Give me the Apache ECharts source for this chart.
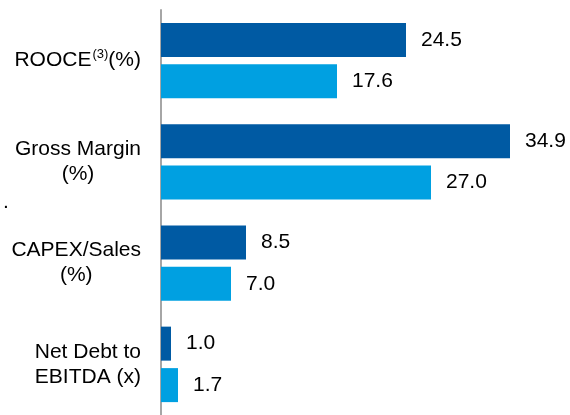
<!DOCTYPE html>
<html>
<head>
<meta charset="utf-8">
<script src="https://cdn.jsdelivr.net/npm/echarts@6/dist/echarts.min.js"></script>
<style>
  html, body { margin: 0; padding: 0; background: #fff; }
  #chart { width: 570px; height: 415px; }
</style>
</head>
<body>
<div id="chart"></div>
<script>
// categories, top to bottom
var categories = ['ROOCE(3)(%)', 'Gross Margin\n(%)', 'CAPEX/Sales\n(%)', 'Net Debt to\nEBITDA (x)'];
var darkValues = [24.5, 34.9, 8.5, 1.0];
var lightValues = [17.6, 27.0, 7.0, 1.7];

var FONT = '"Liberation Sans", Arial, sans-serif';

// ROOCE gets a small superscript, second lines are centred under the first
function catLabel(value) {
    if (value.indexOf('(3)') >= 0) {
        var p = value.split('(3)');
        return '{a|' + p[0] + '}{sup|(3)}{a|' + p[1] + '}';
    }
    var lines = value.split('\n');
    if (lines.length > 1) {
        return '{a|' + lines[0] + '}\n{c|' + lines[1] + '}';
    }
    return '{a|' + value + '}';
}

var chart = echarts.init(document.getElementById('chart'));
chart.setOption({
    animation: false,
    backgroundColor: '#fff',
    grid: { left: 161, top: 10, width: 400, height: 412, containLabel: false },
    xAxis: {
        type: 'value', min: 0, max: 40,
        show: false
    },
    yAxis: {
        type: 'category',
        inverse: true,
        data: categories,
        axisLine: { show: true, lineStyle: { color: '#a6a6a6', width: 2 } },
        axisTick: { show: false },
        axisLabel: {
            margin: 20,
            color: '#000',
            fontFamily: FONT,
            fontSize: 21,
            lineHeight: 25,
            formatter: catLabel,
            rich: {
                a: { fontFamily: FONT, fontSize: 21, color: '#000', lineHeight: 25 },
                c: { fontFamily: FONT, fontSize: 21, color: '#000', lineHeight: 25, align: 'center' },
                sup: { fontFamily: FONT, fontSize: 13, color: '#000', lineHeight: 13, verticalAlign: 'top', padding: [0, 0, 0, 1] }
            }
        }
    },
    series: [
        {
            type: 'bar',
            data: darkValues,
            barWidth: 34,
            barGap: '22%',
            itemStyle: { color: '#005AA3' },
            label: {
                show: true, position: 'right', distance: 15,
                color: '#000', fontFamily: FONT, fontSize: 21,
                formatter: function (p) { return p.value.toFixed(1); }
            }
        },
        {
            type: 'bar',
            data: lightValues,
            barWidth: 34,
            itemStyle: { color: '#00A0E1' },
            label: {
                show: true, position: 'right', distance: 15,
                color: '#000', fontFamily: FONT, fontSize: 21,
                formatter: function (p) { return p.value.toFixed(1); }
            }
        }
    ],
    graphic: [
        // clipped fragment of text at the left edge of the slide
        { type: 'text', left: 3, top: 192, style: { text: '.', fontFamily: FONT, fontSize: 21, fill: '#000' } }
    ]
});
</script>
</body>
</html>
